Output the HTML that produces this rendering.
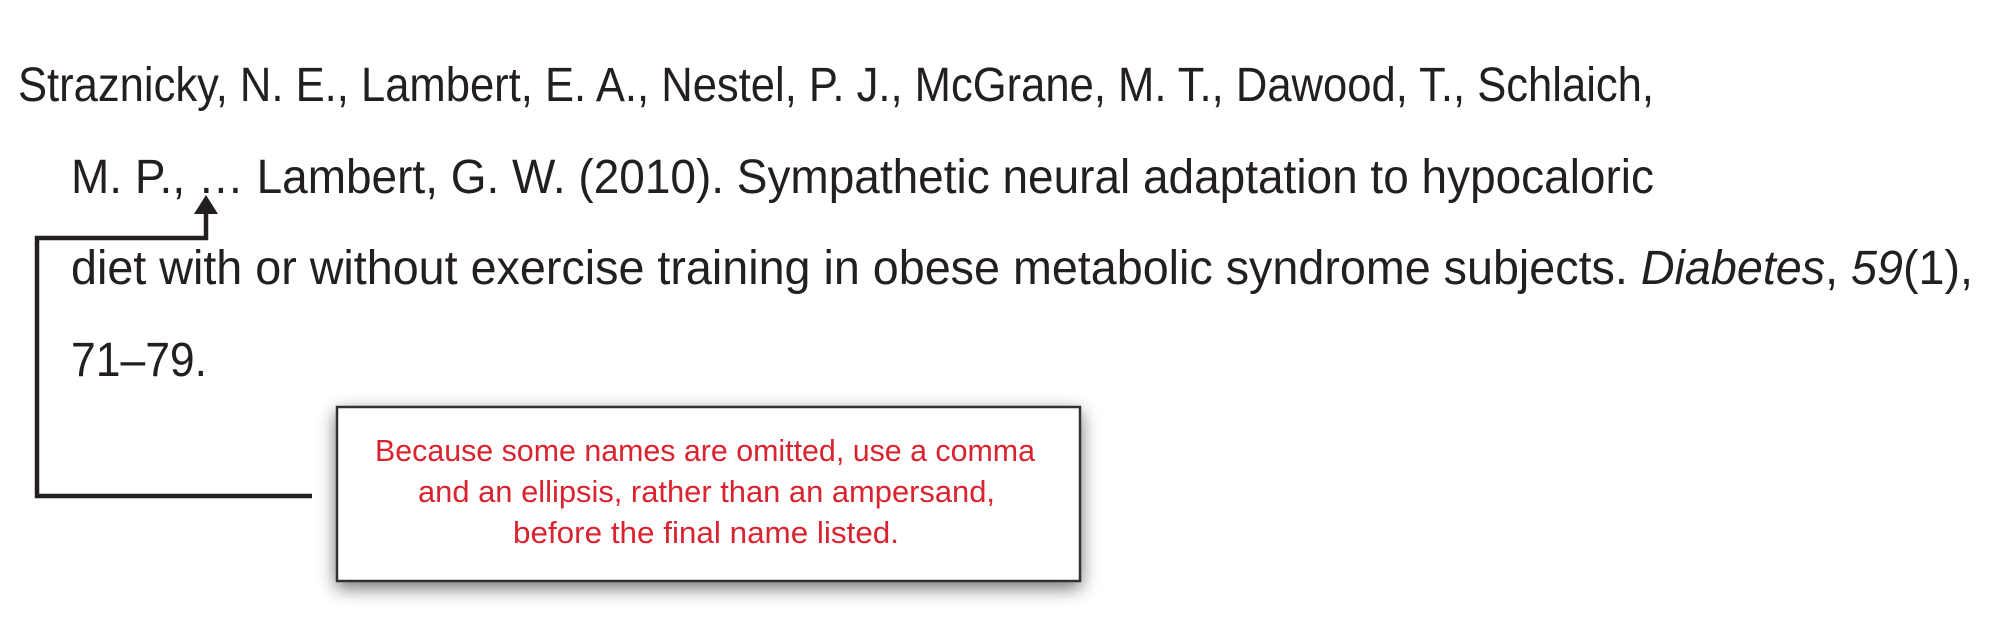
<!DOCTYPE html>
<html>
<head>
<meta charset="utf-8">
<style>
  html,body{margin:0;padding:0;background:#fff;}
  svg{display:block;}
</style>
</head>
<body>
<svg width="2001" height="644" viewBox="0 0 2001 644" xmlns="http://www.w3.org/2000/svg">
  <defs>
    <filter id="sh" x="-10%" y="-20%" width="120%" height="150%">
      <feGaussianBlur in="SourceAlpha" stdDeviation="9"/>
      <feOffset dx="0" dy="6"/>
      <feComponentTransfer><feFuncA type="linear" slope="0.55"/></feComponentTransfer>
      <feMerge><feMergeNode/><feMergeNode in="SourceGraphic"/></feMerge>
    </filter>
  </defs>
  <g font-family="'Liberation Sans', sans-serif" font-size="48" fill="#231f20">
    <text x="18" y="101" textLength="1636" lengthAdjust="spacingAndGlyphs">Straznicky, N. E., Lambert, E. A., Nestel, P. J., McGrane, M. T., Dawood, T., Schlaich,</text>
    <text x="71" y="193" textLength="1583" lengthAdjust="spacingAndGlyphs">M. P., … Lambert, G. W. (2010). Sympathetic neural adaptation to hypocaloric</text>
    <text x="71" y="284" textLength="1902" lengthAdjust="spacingAndGlyphs">diet with or without exercise training in obese metabolic syndrome subjects. <tspan font-style="italic">Diabetes</tspan>, <tspan font-style="italic">59</tspan>(1),</text>
    <text x="71" y="376" textLength="136" lengthAdjust="spacingAndGlyphs">71–79.</text>
  </g>
  <g fill="none" stroke="#231f20" stroke-width="4.5">
    <polyline points="312,496 37,496 37,238 206,238 206,212" stroke-linejoin="miter"/>
    <polygon points="194,214 218,214 206,195" fill="#231f20" stroke="none"/>
  </g>
  <g>
    <rect x="337" y="407" width="743" height="174" fill="#fff" stroke="#333" stroke-width="2.5" filter="url(#sh)"/>
    <g font-family="'Liberation Sans', sans-serif" font-size="31" fill="#d9232e">
      <text x="375" y="461" textLength="660" lengthAdjust="spacingAndGlyphs">Because some names are omitted, use a comma</text>
      <text x="418" y="502" textLength="577" lengthAdjust="spacingAndGlyphs">and an ellipsis, rather than an ampersand,</text>
      <text x="513" y="543" textLength="386" lengthAdjust="spacingAndGlyphs">before the final name listed.</text>
    </g>
  </g>
</svg>
</body>
</html>
